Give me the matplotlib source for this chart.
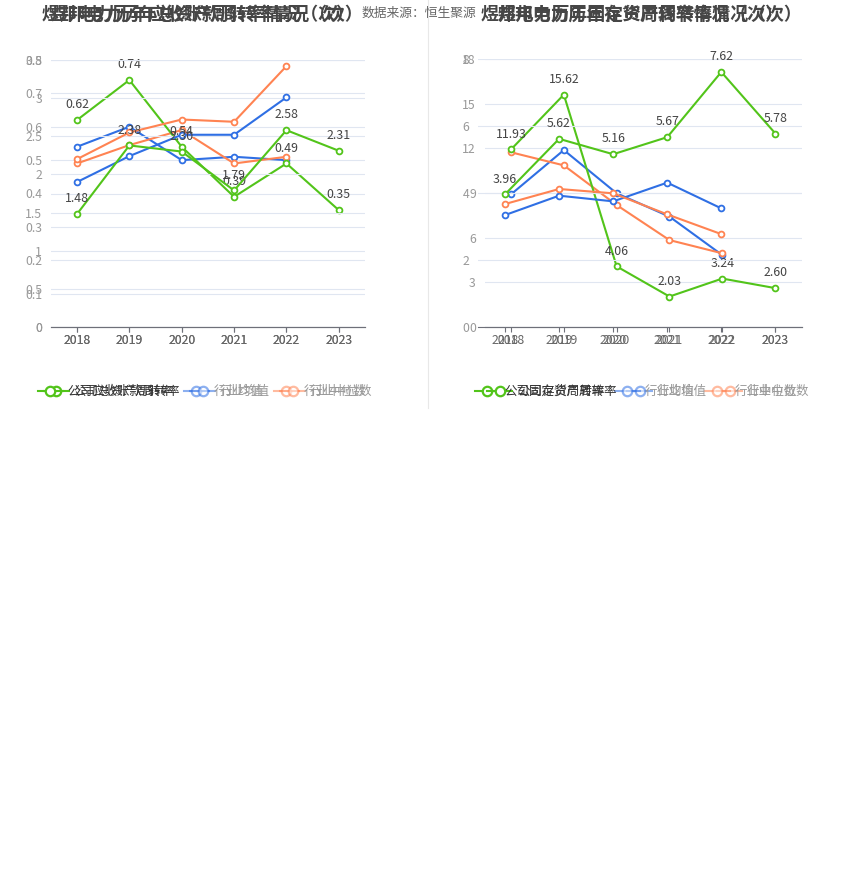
import matplotlib
matplotlib.use("Agg")
import matplotlib.pyplot as plt
from matplotlib.lines import Line2D

plt.rcParams['font.family'] = ['Noto Sans CJK SC', 'DejaVu Sans']

W, H = 850, 890

years = ['2018', '2019', '2020', '2021', '2022', '2023']

# Left panel, chart A: total asset turnover
ta_title = '煜邦电力历年总资产周转率情况（次）'
ta_names = ['公司总资产周转率', '行业均值', '行业中位数']
ta_company = [0.62, 0.74, 0.54, 0.39, 0.49, 0.35]
ta_mean = [0.54, 0.60, 0.50, 0.51, 0.50]
ta_median = [0.49, 0.545, 0.59, 0.49, 0.51]
ta_ticks = [0, 0.1, 0.2, 0.3, 0.4, 0.5, 0.6, 0.7, 0.8]

# Left panel, chart B: receivables turnover
ar_title = '煜邦电力历年应收账款周转率情况（次）'
ar_names = ['公司应收账款周转率', '行业均值', '行业中位数']
ar_company = [1.48, 2.38, 2.30, 1.79, 2.58, 2.31]
ar_mean = [1.90, 2.24, 2.52, 2.52, 3.01]
ar_median = [2.20, 2.55, 2.72, 2.69, 3.42]
ar_ticks = [0, 0.5, 1, 1.5, 2, 2.5, 3, 3.5]

# Right panel, chart A: fixed asset turnover
fa_title = '煜邦电力历年固定资产周转率情况（次）'
fa_names = ['公司固定资产周转率', '行业均值', '行业中位数']
fa_company = [11.93, 15.62, 4.06, 2.03, 3.24, 2.60]
fa_mean = [8.91, 11.89, 8.98, 7.41, 4.82]
fa_median = [11.74, 10.86, 8.19, 5.83, 4.94]
fa_ticks = [0, 3, 6, 9, 12, 15, 18]

# Right panel, chart B: inventory turnover
inv_title = '煜邦电力历年存货周转率情况（次）'
inv_names = ['公司存货周转率', '行业均值', '行业中位数']
inv_company = [3.96, 5.62, 5.16, 5.67, 7.62, 5.78]
inv_mean = [3.34, 3.92, 3.75, 4.31, 3.54]
inv_median = [3.67, 4.12, 3.99, 3.36, 2.77]
inv_ticks = [0, 2, 4, 6, 8]

source_text = '数据来源：恒生聚源'

GREEN = '#52C41A'
BLUE = '#2F6FE4'
ORANGE = '#FF8352'
GRID = '#E0E6F1'
AXIS = '#6E7079'

fig = plt.figure(figsize=(W / 100, H / 100), dpi=100)


def px_axes(x0, x1, y0, y1):
    return fig.add_axes([x0 / W, 1 - y1 / H, (x1 - x0) / W, (y1 - y0) / H])


def fmt(v):
    return ('%g' % v)


def draw_chart(ax, company, mean, median, ticks):
    ax.set_facecolor('none')
    xs = list(range(len(years)))
    for s in ['top', 'right', 'left']:
        ax.spines[s].set_visible(False)
    ax.spines['bottom'].set_color(AXIS)
    ax.spines['bottom'].set_linewidth(0.8)
    ax.set_xlim(-0.5, len(years) - 0.5)
    ax.set_ylim(ticks[0], ticks[-1])
    ax.set_yticks(ticks)
    ax.set_yticklabels([fmt(t) for t in ticks])
    ax.set_xticks(xs)
    ax.set_xticklabels(years)
    ax.tick_params(axis='y', length=0, pad=6.3, labelsize=8.8, labelcolor='#999999')
    ax.tick_params(axis='x', length=3.6, width=0.8, color=AXIS, pad=1.5,
                   labelsize=8.8, labelcolor='#666666')
    ax.yaxis.grid(True, color=GRID, linewidth=0.8)
    ax.set_axisbelow(True)
    mk = dict(marker='o', markersize=4.2, markerfacecolor='white',
              markeredgewidth=1.3, linewidth=1.5, clip_on=False)
    ax.plot(xs[:len(mean)], mean, color=BLUE, markeredgecolor=BLUE, zorder=3, **mk)
    ax.plot(xs[:len(median)], median, color=ORANGE, markeredgecolor=ORANGE, zorder=3, **mk)
    ax.plot(xs, company, color=GREEN, markeredgecolor=GREEN, zorder=4, **mk)
    for x, v in zip(xs, company):
        ax.annotate('%.2f' % v, (x, v), xytext=(0, 11), textcoords='offset points',
                    ha='center', va='center', fontsize=8.9, color='#444444',
                    annotation_clip=False, zorder=5)


# Left panel
axA = px_axes(50.8, 365, 60, 327)
draw_chart(axA, ta_company, ta_mean, ta_median, ta_ticks)
axB = px_axes(50.8, 365, 60, 327)
draw_chart(axB, ar_company, ar_mean, ar_median, ar_ticks)

# Right panel
axC = px_axes(484.6, 801.5, 59.3, 326.7)
draw_chart(axC, fa_company, fa_mean, fa_median, fa_ticks)
axD = px_axes(478, 802.4, 59.3, 326.7)
draw_chart(axD, inv_company, inv_mean, inv_median, inv_ticks)

# Titles
for t, cx in [(ta_title, 202.5), (ar_title, 202.5), (fa_title, 641), (inv_title, 641)]:
    fig.text(cx / W, 1 - 15 / H, t, ha='center', va='center', fontsize=12.9,
             fontweight='bold', color='#464646')
fig.text(362 / W, 1 - 13.5 / H, source_text, ha='left', va='center', fontsize=9.2,
         color='#666666')

# Separator
fig.add_artist(Line2D([427.5 / W, 427.5 / W], [1, 1 - 408 / H], color='#E8E8E8',
                      linewidth=0.8, transform=fig.transFigure))

# Legends (manual, centered)
renderer = fig.canvas.get_renderer()


def draw_legend(names, cx, cy):
    colors = [GREEN, BLUE, ORANGE]
    alphas = [1.0, 0.55, 0.55]
    tcolors = ['#333333', '#999999', '#999999']
    texts = []
    widths = []
    for n, tc in zip(names, tcolors):
        t = fig.text(0, 1 - cy / H, n, ha='left', va='center', fontsize=9.0, color=tc)
        bb = t.get_window_extent(renderer)
        texts.append(t)
        widths.append(bb.width)
    total = sum(25 + 5 + w for w in widths) + 10 * (len(names) - 1)
    x = cx - total / 2
    for t, w, c, a in zip(texts, widths, colors, alphas):
        y = 1 - cy / H
        fig.add_artist(Line2D([x / W, (x + 25) / W], [y, y], color=c, alpha=a,
                              linewidth=1.5, transform=fig.transFigure))
        fig.add_artist(Line2D([(x + 12.5) / W], [y], marker='o', markersize=6.8,
                              markerfacecolor='white', markeredgecolor=c, alpha=a,
                              markeredgewidth=1.6, linestyle='none',
                              transform=fig.transFigure))
        t.set_x((x + 30) / W)
        x += 25 + 5 + w + 10


draw_legend(ta_names, 205, 391)
draw_legend(ar_names, 205, 391)
draw_legend(fa_names, 642, 391)
draw_legend(inv_names, 642, 391)

fig.savefig('out.png', dpi=100, facecolor='white')
